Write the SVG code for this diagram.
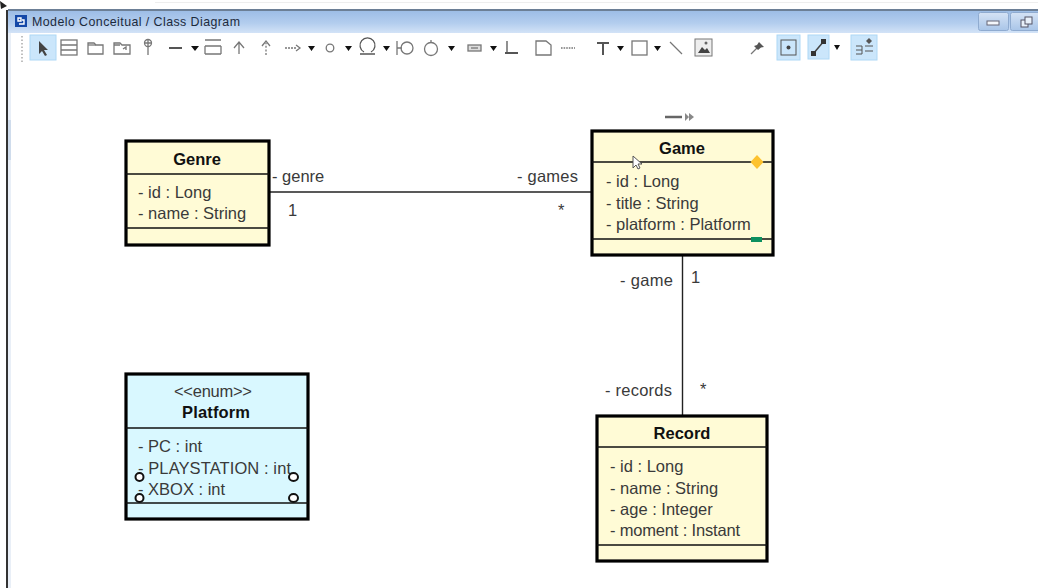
<svg xmlns="http://www.w3.org/2000/svg" width="1038" height="588" viewBox="0 0 1038 588">
<defs>
<linearGradient id="bar" x1="0" y1="0" x2="0" y2="1"><stop offset="0" stop-color="#9dbde6"/><stop offset="0.55" stop-color="#b3cdee"/><stop offset="1" stop-color="#d3e3f7"/></linearGradient>
<linearGradient id="btn" x1="0" y1="0" x2="0" y2="1"><stop offset="0" stop-color="#d5e3f5"/><stop offset="1" stop-color="#a9c5e8"/></linearGradient>
</defs>
<style>
text{font-family:"Liberation Sans",Arial,sans-serif;fill:#3a3a3a}
.a{font-size:16.5px}
.t{font-size:16.5px;font-weight:bold;fill:#111;text-anchor:middle}
.box{stroke:#000;stroke-width:3.2}
.y{fill:#fffbd6}
.c{fill:#d9f8ff}
.sep{stroke:#111;stroke-width:1.4;fill:none}
.con{stroke:#222;stroke-width:1.4;fill:none}
.ic{stroke:#777;stroke-width:1.3;fill:none}
.if{fill:#444;stroke:none}
.sel{fill:#cbe6fb;stroke:#aed8f5;stroke-width:1}
.h{fill:#fff;stroke:#111;stroke-width:2}
</style>
<rect width="1038" height="588" fill="#fff"/>
<g id="window">
<rect x="6" y="10" width="2" height="578" fill="#333"/>
<path d="M0 1l7 5-6 3z" fill="#222"/>
<rect x="155" y="2" width="883" height="1" fill="#eee"/>
<rect x="8" y="9" width="1030" height="2" fill="#6c7f96"/>
<rect x="8" y="11" width="1030" height="22" fill="url(#bar)"/>
<rect x="8" y="33" width="3" height="555" fill="#e9eff7"/>
<rect x="8" y="120" width="3" height="40" fill="#cfdcec"/>
<rect x="15" y="15" width="12" height="12" fill="#1448a8"/>
<path d="M18 18h3v3h-3zM22 20h2v4h-5" fill="none" stroke="#fff" stroke-width="1.4"/>
<text x="32" y="26" font-size="12.4" textLength="208" style="fill:#1c2a3c">Modelo Conceitual / Class Diagram</text>
<rect x="978.500" y="12.500" width="30" height="18" rx="2" fill="url(#btn)" stroke="#8fabd0"/>
<rect x="1010.500" y="12.500" width="30" height="18" rx="2" fill="url(#btn)" stroke="#8fabd0"/>
<rect x="987" y="21" width="12" height="4" fill="#f4f7fb" stroke="#667"/>
<rect x="1021" y="20" width="7" height="7" fill="#e8f0fa" stroke="#556"/>
<rect x="1025" y="17" width="7" height="7" fill="#e8f0fa" stroke="#556"/>
</g>
<g id="toolbar">
<path d="M22 36V62" stroke="#aaa" stroke-width="1.500" stroke-dasharray="1.500 2"/>
<rect x="30" y="35" width="26" height="25" class="sel"/>
<path d="M39 41l0 13 3-3 3 5 2-1-3-5 4 0z" class="if"/>
<g class="ic">
<rect x="61" y="40" width="16" height="15"/><path d="M61 45h16M61 50h16"/>
<path d="M88 54V43h6l2 2h7v9z"/><path d="M88 45h8"/>
<path d="M114 54V43h6l2 2h8v9z"/><path d="M114 45h6M123 49l3-2v3"/>
<circle cx="148" cy="43" r="3.500"/><path d="M148 39v16M145 43h6"/>
<path d="M169 48h13" stroke="#555" stroke-width="2"/>
<path d="M205 40h16M205 46h16M205 54h16M205 46v8M221 46v8"/>
<path d="M239 54V43M234 48l5-6 5 6"/>
<path d="M266 55V43" stroke-dasharray="2 1.600"/><path d="M262 46l4-5 4 5"/>
<path d="M285 48h12" stroke-dasharray="2 1"/><path d="M296 45l4 3-4 3"/>
<circle cx="330" cy="48" r="3.800"/>
<path d="M364 52a7.500 7.500 0 1 1 7 0M360 54h15" stroke="#555"/>
<path d="M397 41v14M397 48h5"/><circle cx="407" cy="48" r="6"/>
<circle cx="431" cy="49" r="6.500"/><path d="M431 40v3"/>
<rect x="468" y="45" width="13" height="6" fill="#ddd"/><path d="M471 48h7"/>
<path d="M507 41v11" stroke="#555"/><path d="M505 53h13" stroke="#555" stroke-width="2"/>
<path d="M536 41h10l5 4v10h-15z"/>
<path d="M561 48h14" stroke-dasharray="1.600 1"/>
<path d="M597 43h12M603 43v12" stroke="#555" stroke-width="2"/>
<rect x="632" y="41" width="15" height="14"/>
<path d="M670 42l12 12"/>
</g>
<path d="M191 46h8l-4 5zM308 46h7l-3.500 5zM345 46h7l-3.500 5zM383 46h7l-3.500 5zM448 46h7l-3.500 5zM490 46h7l-3.500 5zM617 46h7l-3.500 5zM654 46h7l-3.500 5z" fill="#111"/>
<rect x="695" y="39" width="17" height="17" fill="#eee" stroke="#777"/>
<path d="M698 53l4-6 3 3 2-2 3 5z" fill="#444"/><circle cx="706" cy="43" r="1.500" fill="#666"/>
<path d="M751 54l6-6" stroke="#777" stroke-width="1.300"/>
<path d="M759 42l5 5-3 .5-3 2.500-4-4 3-1z" fill="#555"/>
<rect x="777" y="35" width="23" height="25" class="sel"/>
<rect x="781" y="40" width="15" height="15" fill="none" stroke="#555"/><circle cx="788.500" cy="47.500" r="2" fill="#444"/>
<rect x="808" y="35" width="21" height="24" class="sel"/>
<path d="M813 54l11-13" stroke="#444" stroke-width="1.500"/><rect x="811" y="51" width="5" height="5" fill="#333"/><rect x="821" y="39" width="5" height="5" fill="#333"/>
<path d="M834 45h6l-3 5z" fill="#111"/>
<rect x="851" y="35" width="26" height="25" class="sel"/>
<path d="M856 46h6v8h-6M856 50h6M865 51h8M865 46h8" stroke="#555" fill="none"/><path d="M869 38l3 3-3 3-3-3z" fill="#555"/>
</g>
<g id="connectors">
<path class="con" d="M270 192H592"/>
<path class="con" d="M682.500 256V415"/>
</g>
<g id="labels">
<text class="a" x="272" y="182">- genre</text>
<text class="a" x="288" y="216">1</text>
<text class="a" x="517" y="182" textLength="61">- games</text>
<text class="a" x="558" y="216">*</text>
<text class="a" x="620" y="286" textLength="53">- game</text>
<text class="a" x="691" y="283">1</text>
<text class="a" x="605" y="396" textLength="67">- records</text>
<text class="a" x="700" y="395">*</text>
</g>
<g id="genre">
<rect class="box y" x="126" y="141" width="143" height="104"/>
<path class="sep" d="M126 174H269M126 228H269"/>
<text class="t" x="197" y="165">Genre</text>
<text class="a" x="138" y="198">- id : Long</text>
<text class="a" x="138" y="219">- name : String</text>
</g>
<g id="game">
<rect class="box y" x="592" y="131" width="181" height="124"/>
<path class="sep" d="M592 162H773M592 239H773"/>
<text class="t" x="682" y="154">Game</text>
<text class="a" x="606" y="186.500">- id : Long</text>
<text class="a" x="606" y="208.500">- title : String</text>
<text class="a" x="606" y="230">- platform : Platform</text>
<path d="M757 155l6.500 7-6.500 7-6.500-7z" fill="#fdc22f"/>
<rect x="751" y="237" width="11" height="5" fill="#0d9060"/>
<path d="M665 117h17" stroke="#666" stroke-width="2.500"/>
<path d="M685 113l4 4-4 4zM689 113l5 4-5 4z" fill="#888"/>
<path d="M633 156v12l3-3 2 4 2-1-2-4h4z" fill="#fff" stroke="#555"/>
</g>
<g id="platform">
<rect class="box c" x="126" y="374" width="182" height="145"/>
<path class="sep" d="M126 428H308M126 503H308"/>
<text class="a" x="213" y="397" text-anchor="middle" textLength="78">&lt;&lt;enum&gt;&gt;</text>
<text class="t" x="216" y="418" textLength="68">Platform</text>
<text class="a" x="138" y="452">- PC : int</text>
<text class="a" x="138" y="474" textLength="153">- PLAYSTATION : int</text>
<text class="a" x="138" y="495">- XBOX : int</text>
<ellipse class="h" cx="139.500" cy="477" rx="4" ry="4"/>
<ellipse class="h" cx="139.500" cy="498" rx="4" ry="4"/>
<ellipse class="h" cx="293.500" cy="477" rx="4.500" ry="4"/>
<ellipse class="h" cx="293.500" cy="498" rx="4.500" ry="4"/>
</g>
<g id="record">
<rect class="box y" x="597" y="416" width="170" height="145"/>
<path class="sep" d="M597 447H767M597 545H767"/>
<text class="t" x="682" y="439">Record</text>
<text class="a" x="610" y="472">- id : Long</text>
<text class="a" x="610" y="494">- name : String</text>
<text class="a" x="610" y="515">- age : Integer</text>
<text class="a" x="610" y="536" textLength="130">- moment : Instant</text>
</g>
</svg>
